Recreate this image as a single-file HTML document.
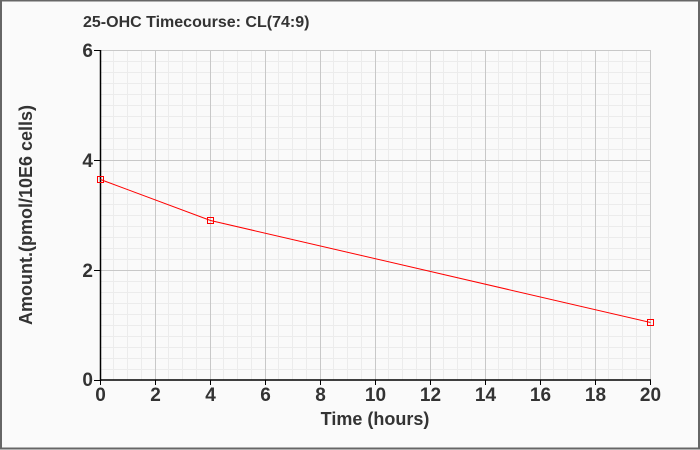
<!DOCTYPE html>
<html>
<head>
<meta charset="utf-8">
<style>
  html, body { margin: 0; padding: 0; background: #fafafa; }
  svg { display: block; }
  text { font-family: "Liberation Sans", Arial, sans-serif; font-weight: bold; fill: #333; }
</style>
</head>
<body>
<svg width="700" height="450" viewBox="0 0 700 450" xmlns="http://www.w3.org/2000/svg">
  <rect x="0" y="0" width="700" height="450" fill="#fafafa"/>
  <path fill="none" stroke="#ececec" stroke-width="1" d="M113.5 50V380M127.5 50V380M141.5 50V380M168.5 50V380M182.5 50V380M196.5 50V380M223.5 50V380M237.5 50V380M251.5 50V380M278.5 50V380M292.5 50V380M306.5 50V380M333.5 50V380M347.5 50V380M361.5 50V380M388.5 50V380M402.5 50V380M416.5 50V380M443.5 50V380M457.5 50V380M471.5 50V380M498.5 50V380M512.5 50V380M526.5 50V380M553.5 50V380M567.5 50V380M581.5 50V380M608.5 50V380M622.5 50V380M636.5 50V380"/>
  <path fill="none" stroke="#ececec" stroke-width="1" d="M100 61.5H651M100 72.5H651M100 83.5H651M100 94.5H651M100 105.5H651M100 116.5H651M100 127.5H651M100 138.5H651M100 149.5H651M100 171.5H651M100 182.5H651M100 193.5H651M100 204.5H651M100 215.5H651M100 226.5H651M100 237.5H651M100 248.5H651M100 259.5H651M100 281.5H651M100 292.5H651M100 303.5H651M100 314.5H651M100 325.5H651M100 336.5H651M100 347.5H651M100 358.5H651M100 369.5H651"/>
  <path fill="none" stroke="#c8c8c8" stroke-width="1" d="M155.5 50V380M210.5 50V380M265.5 50V380M320.5 50V380M375.5 50V380M430.5 50V380M485.5 50V380M540.5 50V380M595.5 50V380M650.5 50V380M100 50.5H651M100 160.5H651M100 270.5H651"/>
  <path fill="none" stroke="#000" stroke-width="1.5" d="M100.5 50V381M100 380H651"/>
  <path fill="none" stroke="#000" stroke-width="1" d="M94 50.5H100M94 160.5H100M94 270.5H100M94 380.5H100M100.5 380V385M155.5 380V385M210.5 380V385M265.5 380V385M320.5 380V385M375.5 380V385M430.5 380V385M485.5 380V385M540.5 380V385M595.5 380V385M650.5 380V385"/>
  <polyline points="100.5,179.5 210.5,220.5 650.5,322.5" fill="none" stroke="#ff0000" stroke-width="1"/>
  <path fill="none" stroke="#ff0000" stroke-width="1" d="M97.5 176.5h6v6h-6zM207.5 217.5h6v6h-6zM647.5 319.5h6v6h-6z"/>
  <g font-size="19" text-anchor="end">
    <text x="93" y="57">6</text>
    <text x="93" y="167">4</text>
    <text x="93" y="277">2</text>
    <text x="93" y="386">0</text>
  </g>
  <g font-size="19" text-anchor="middle">
    <text x="100.5" y="401">0</text>
    <text x="155.5" y="401">2</text>
    <text x="210.5" y="401">4</text>
    <text x="265.5" y="401">6</text>
    <text x="320.5" y="401">8</text>
    <text x="375.5" y="401">10</text>
    <text x="430.5" y="401">12</text>
    <text x="485.5" y="401">14</text>
    <text x="540.5" y="401">16</text>
    <text x="595.5" y="401">18</text>
    <text x="650.5" y="401">20</text>
  </g>
  <text x="375" y="425" font-size="18" text-anchor="middle">Time (hours)</text>
  <text transform="translate(32,215) rotate(-90)" font-size="18" text-anchor="middle">Amount.(pmol/10E6 cells)</text>
  <text x="83" y="27" font-size="16">25-OHC Timecourse: CL(74:9)</text>
  <rect x="1" y="0.5" width="698" height="448" fill="none" stroke="#666" stroke-width="2"/>
</svg>
</body>
</html>
